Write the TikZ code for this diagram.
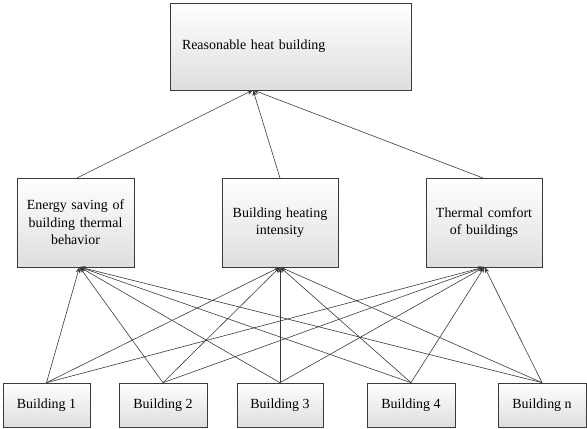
\documentclass[tikz,border=0pt]{standalone}
\usepackage{fontspec}
\setmainfont{Liberation Serif}
\usetikzlibrary{arrows.meta,shadows}
\definecolor{edge}{HTML}{3A3A3A}
\tikzset{
  box/.style={draw=edge, line width=0.7bp, top color=white, bottom color=black!13,
    general shadow={fill=black!45, shadow xshift=1.3bp, shadow yshift=-1.3bp},
    inner sep=0pt, font=\fontsize{14}{17.5}\selectfont, align=center},
  link/.style={draw=edge, line width=0.6bp, -{Stealth[length=6bp,width=4.5bp]}}
}
\begin{document}
\begin{tikzpicture}[x=1bp,y=-1bp]
\useasboundingbox (0,0) rectangle (587,428);
% top
\node[box, minimum width=241bp, minimum height=87bp, text width=217bp, align=left] (top) at (290.5,46.5) {Reasonable heat building};
% middle
\node[box, minimum width=117bp, minimum height=89bp, text width=117bp] (m1) at (75.5,222.5) {Energy saving of\\building thermal\\behavior};
\node[box, minimum width=116bp, minimum height=89bp, text width=116bp] (m2) at (280,222.5) {Building heating\\intensity};
\node[box, minimum width=116bp, minimum height=89bp, text width=116bp] (m3) at (484,222.5) {Thermal comfort\\of buildings};
% bottom
\node[box, minimum width=87bp, minimum height=44bp] (b1) at (46.5,405) {Building 1};
\node[box, minimum width=88bp, minimum height=44bp] (b2) at (163,405) {Building 2};
\node[box, minimum width=86bp, minimum height=44bp] (b3) at (280,405) {Building 3};
\node[box, minimum width=88bp, minimum height=44bp] (b4) at (411,405) {Building 4};
\node[box, minimum width=88bp, minimum height=44bp] (bn) at (542,405) {Building n};
% targets
\coordinate (tt) at (253,90);
\coordinate (t1) at (79.5,267);
\coordinate (t2) at (280,267);
\coordinate (t3) at (484.5,267);
\coordinate (s1) at (77,178);
\coordinate (s2) at (280,178);
\coordinate (s3) at (483,178);
% upper arrows
\foreach \s in {s1,s2,s3} \draw[link] (\s) -- (tt);
% lower arrows
\foreach \b in {b1,b2,b3,b4,bn}
  \foreach \t in {t1,t2,t3}
    \draw[link] (\b.north) -- (\t);
\end{tikzpicture}
\end{document}
